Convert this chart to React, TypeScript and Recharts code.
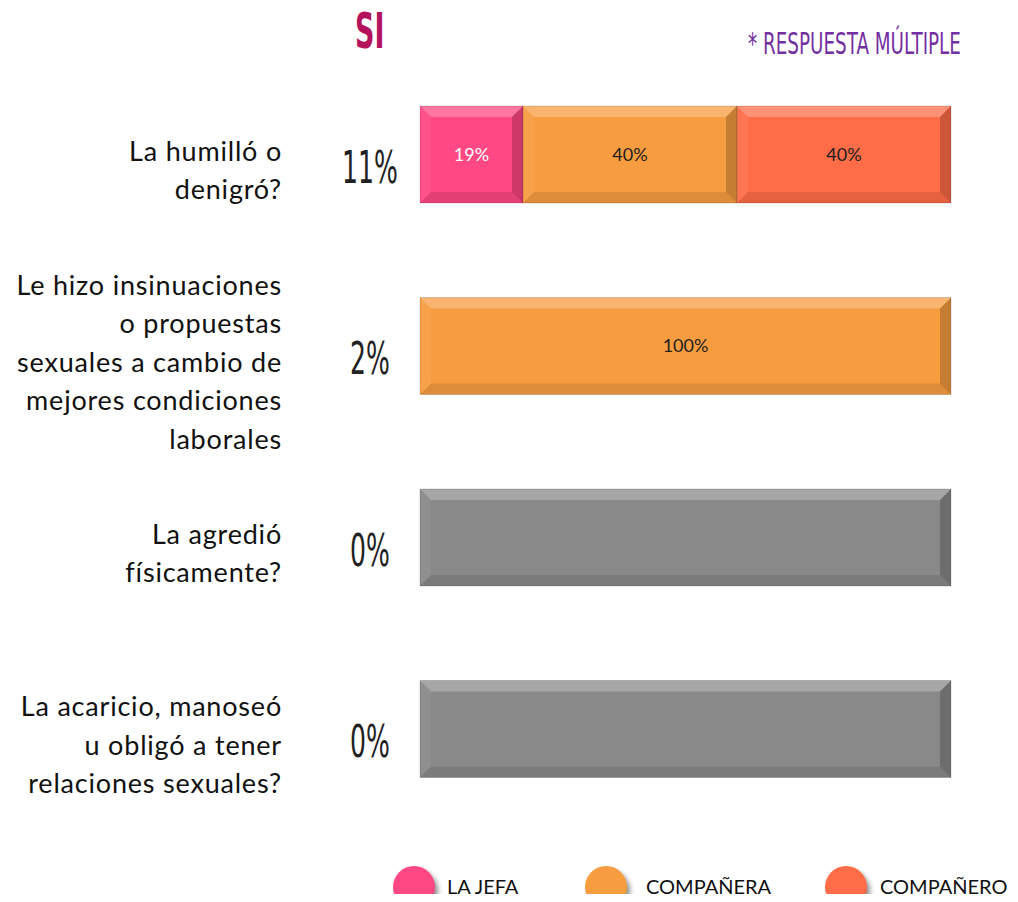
import { Bar, BarChart, LabelList, XAxis, YAxis } from "recharts";

const preguntas = [
  ["La humilló o", "denigró?"],
  ["Le hizo insinuaciones", "o propuestas", "sexuales a cambio de", "mejores condiciones", "laborales"],
  ["La agredió", "físicamente?"],
  ["La acaricio, manoseó", "u obligó a tener", "relaciones sexuales?"],
];
const totales = ["11%", "2%", "0%", "0%"];
const laJefa = [19.4, 0, 0, 0];
const companera = [40.3, 100, 0, 0];
const companero = [40.3, 0, 0, 0];
const sinRespuesta = [0, 0, 100, 100];

const data = preguntas.map((lines, i) => ({
  name: lines.join(" "),
  lines,
  total: totales[i],
  jefa: laJefa[i],
  companera: companera[i],
  companero: companero[i],
  sin: sinRespuesta[i],
}));

const series = [
  { key: "jefa", label: "LA JEFA", color: "#ff4884", text: "#ffffff" },
  { key: "companera", label: "COMPAÑERA", color: "#f79d40", text: "#1e1e1e" },
  { key: "companero", label: "COMPAÑERO", color: "#ff6c48", text: "#1e1e1e" },
];

const SANS = "'Lato', 'Open Sans', sans-serif";
const CONDENSED = "'DejaVu Sans Condensed', 'DejaVu Sans', sans-serif";

function BevelBar(props: any) {
  const { x, y, width, height, fill } = props;
  if (!width || width <= 0) return null;
  const b = Math.min(11, width / 4, height / 4);
  const r = x + width;
  const bt = y + height;
  return (
    <g>
      <rect x={x} y={y} width={width} height={height} fill={fill} />
      <polygon points={`${x},${y} ${r},${y} ${r - b},${y + b} ${x + b},${y + b}`} fill="#fff" fillOpacity={0.25} />
      <polygon points={`${x},${y} ${x + b},${y + b} ${x + b},${bt - b} ${x},${bt}`} fill="#fff" fillOpacity={0.06} />
      <polygon points={`${x},${bt} ${x + b},${bt - b} ${r - b},${bt - b} ${r},${bt}`} fill="#000" fillOpacity={0.1} />
      <polygon points={`${r},${y} ${r},${bt} ${r - b},${bt - b} ${r - b},${y + b}`} fill="#000" fillOpacity={0.2} />
      <rect x={x} y={y} width={width} height={height} fill="none" stroke="#000" strokeOpacity={0.15} />
    </g>
  );
}

function QuestionTick(props: any) {
  const { y, payload } = props;
  const row = data.find((d) => d.name === payload.value);
  if (!row) return null;
  const lh = 38.5;
  const start = y + 16 - ((row.lines.length - 1) * lh) / 2;
  return (
    <g>
      <text textAnchor="end" fontFamily={SANS} fontSize={27} letterSpacing={0.8} fill="#111">
        {row.lines.map((l, i) => (
          <tspan key={i} x={282} y={start + i * lh} dy="0.35em">
            {l}
          </tspan>
        ))}
      </text>
      <text
        transform={`translate(370, ${y + 28}) scale(0.62, 1)`}
        textAnchor="middle"
        fontFamily={CONDENSED}
        fontSize={45}
        fill="#222"
      >
        {row.total}
      </text>
    </g>
  );
}

function LegendRow() {
  const dots = [393, 585, 825];
  const texts = [447, 646, 880];
  return (
    <div style={{ position: "absolute", left: 0, top: 860, width: 1018, height: 50 }}>
      {series.map((s, i) => (
        <div key={s.key}>
          <div
            style={{
              position: "absolute",
              left: dots[i],
              top: 6,
              width: 42,
              height: 42,
              borderRadius: "50%",
              background: s.color,
              boxShadow: "3px 4px 5px rgba(0,0,0,0.45)",
            }}
          />
          <div
            style={{
              position: "absolute",
              left: texts[i],
              top: 14,
              fontFamily: SANS,
              fontSize: 20,
              color: "#111",
              whiteSpace: "nowrap",
            }}
          >
            {s.label}
          </div>
        </div>
      ))}
    </div>
  );
}

const pctLabel = (v: any) => (Number(v) > 0 ? `${Math.round(Number(v))}%` : "");

export default function App() {
  return (
    <div style={{ position: "relative", margin: -8, width: 1018, height: 902, overflow: "hidden", background: "#fff" }}>
      <div
        style={{
          position: "absolute",
          left: 355,
          top: 2,
          fontFamily: CONDENSED,
          fontWeight: 700,
          fontSize: 50,
          color: "#b5125e",
          transform: "scale(0.6, 1)",
          transformOrigin: "left top",
        }}
      >
        SI
      </div>
      <div
        style={{
          position: "absolute",
          left: 748,
          top: 26,
          fontFamily: CONDENSED,
          fontSize: 30,
          color: "#7330a2",
          transform: "scale(0.68, 1)",
          transformOrigin: "left top",
          whiteSpace: "nowrap",
        }}
      >
        * RESPUESTA MÚLTIPLE
      </div>
      <BarChart
        width={1018}
        height={902}
        data={data}
        layout="vertical"
        margin={{ top: 59, right: 67, bottom: 77, left: 0 }}
        barSize={97}
      >
        <XAxis type="number" domain={[0, 100]} hide />
        <YAxis
          type="category"
          dataKey="name"
          width={420}
          tickLine={false}
          axisLine={false}
          tick={<QuestionTick />}
          interval={0}
        />
        {series.map((s) => (
          <Bar
            key={s.key}
            dataKey={s.key}
            name={s.label}
            stackId="a"
            fill={s.color}
            shape={<BevelBar />}
            isAnimationActive={false}
          >
            <LabelList
              dataKey={s.key}
              position="center"
              formatter={pctLabel}
              fill={s.text}
              fontFamily={SANS}
              fontSize={18}
            />
          </Bar>
        ))}
        <Bar
          dataKey="sin"
          stackId="a"
          fill="#898989"
          shape={<BevelBar />}
          legendType="none"
          isAnimationActive={false}
        />
      </BarChart>
      <LegendRow />
    </div>
  );
}
